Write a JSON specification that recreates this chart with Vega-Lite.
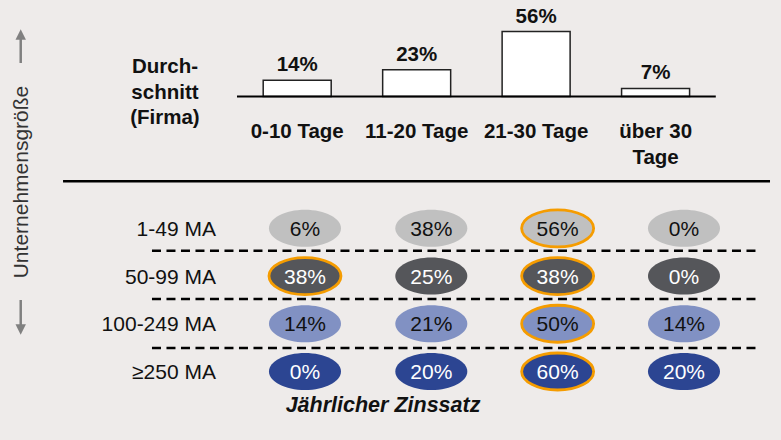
{
  "$schema": "https://vega.github.io/schema/vega-lite/v6.json",
  "width": 781,
  "height": 440,
  "padding": 0,
  "autosize": {"type": "fit", "contains": "padding"},
  "background": "#eeebea",
  "config": {"view": {"stroke": null}, "font": "Liberation Sans"},
  "datasets": {
    "bars": [
      {"term": "0-10 Tage", "label": "0-10 Tage", "ti": 1, "share": 0.14},
      {"term": "11-20 Tage", "label": "11-20 Tage", "ti": 2, "share": 0.23},
      {"term": "21-30 Tage", "label": "21-30 Tage", "ti": 3, "share": 0.56},
      {"term": "über 30 Tage", "label": "über 30\nTage", "ti": 4, "share": 0.07}
    ],
    "grid": [
      {"size": "1-49 MA", "si": 1, "term": "0-10 Tage", "ti": 1, "share": 0.06, "best": false},
      {"size": "1-49 MA", "si": 1, "term": "11-20 Tage", "ti": 2, "share": 0.38, "best": false},
      {"size": "1-49 MA", "si": 1, "term": "21-30 Tage", "ti": 3, "share": 0.56, "best": true},
      {"size": "1-49 MA", "si": 1, "term": "über 30 Tage", "ti": 4, "share": 0.0, "best": false},
      {"size": "50-99 MA", "si": 2, "term": "0-10 Tage", "ti": 1, "share": 0.38, "best": true},
      {"size": "50-99 MA", "si": 2, "term": "11-20 Tage", "ti": 2, "share": 0.25, "best": false},
      {"size": "50-99 MA", "si": 2, "term": "21-30 Tage", "ti": 3, "share": 0.38, "best": true},
      {"size": "50-99 MA", "si": 2, "term": "über 30 Tage", "ti": 4, "share": 0.0, "best": false},
      {"size": "100-249 MA", "si": 3, "term": "0-10 Tage", "ti": 1, "share": 0.14, "best": false},
      {"size": "100-249 MA", "si": 3, "term": "11-20 Tage", "ti": 2, "share": 0.21, "best": false},
      {"size": "100-249 MA", "si": 3, "term": "21-30 Tage", "ti": 3, "share": 0.50, "best": true},
      {"size": "100-249 MA", "si": 3, "term": "über 30 Tage", "ti": 4, "share": 0.14, "best": false},
      {"size": "≥250 MA", "si": 4, "term": "0-10 Tage", "ti": 1, "share": 0.0, "best": false},
      {"size": "≥250 MA", "si": 4, "term": "11-20 Tage", "ti": 2, "share": 0.20, "best": false},
      {"size": "≥250 MA", "si": 4, "term": "21-30 Tage", "ti": 3, "share": 0.60, "best": true},
      {"size": "≥250 MA", "si": 4, "term": "über 30 Tage", "ti": 4, "share": 0.20, "best": false}
    ]
  },
  "resolve": {"scale": {"x": "independent", "y": "independent"}},
  "layer": [
    {
      "layer": [
        {
          "data": {"name": "bars"},
          "mark": {"type": "bar", "orient": "vertical", "width": 68, "fill": "#ffffff", "stroke": "#222222", "strokeWidth": 1.5},
          "encoding": {
            "x": {"field": "ti", "type": "quantitative", "scale": {"domain": [-1.446, 5.008], "nice": false, "zero": false}, "axis": null},
            "y": {"field": "share", "type": "quantitative", "scale": {"domain": [-2.9612, 0.8319], "nice": false, "zero": false}, "axis": null},
            "y2": {"datum": 0}
          }
        },
        {
          "data": {"name": "bars"},
          "mark": {"type": "text", "font": "Liberation Sans", "fontWeight": "bold", "fontSize": 20.5, "baseline": "alphabetic", "align": "center", "dy": -9, "color": "#111111"},
          "encoding": {
            "x": {"field": "ti", "type": "quantitative", "scale": {"domain": [-1.446, 5.008], "nice": false, "zero": false}, "axis": null},
            "y": {"field": "share", "type": "quantitative", "scale": {"domain": [-2.9612, 0.8319], "nice": false, "zero": false}, "axis": null},
            "text": {"field": "share", "type": "quantitative", "format": ".0%"}
          }
        },
        {
          "data": {"name": "bars"},
          "mark": {"type": "text", "font": "Liberation Sans", "fontWeight": "bold", "fontSize": 20.5, "baseline": "top", "align": "center", "lineBreak": "\n", "lineHeight": 26, "color": "#111111"},
          "encoding": {
            "x": {"field": "ti", "type": "quantitative", "scale": {"domain": [-1.446, 5.008], "nice": false, "zero": false}, "axis": null},
            "y": {"datum": -0.2198, "type": "quantitative", "scale": {"domain": [-2.9612, 0.8319], "nice": false, "zero": false}, "axis": null},
            "text": {"field": "label", "type": "nominal"}
          }
        },
        {
          "data": {"values": [{"label": "Durch-\nschnitt\n(Firma)"}]},
          "mark": {"type": "text", "font": "Liberation Sans", "fontWeight": "bold", "fontSize": 20.5, "baseline": "top", "align": "center", "lineBreak": "\n", "lineHeight": 25.5, "color": "#111111"},
          "encoding": {
            "x": {"datum": -0.107, "type": "quantitative", "scale": {"domain": [-1.446, 5.008], "nice": false, "zero": false}, "axis": null},
            "y": {"datum": 0.3405, "type": "quantitative", "scale": {"domain": [-2.9612, 0.8319], "nice": false, "zero": false}, "axis": null},
            "text": {"field": "label", "type": "nominal"}
          }
        },
        {
          "data": {"values": [{}]},
          "mark": {"type": "rule", "stroke": "#000000", "strokeWidth": 2},
          "encoding": {
            "x": {"datum": 0.496, "type": "quantitative", "scale": {"domain": [-1.446, 5.008], "nice": false, "zero": false}, "axis": null},
            "x2": {"datum": 4.504},
            "y": {"datum": 0, "type": "quantitative", "scale": {"domain": [-2.9612, 0.8319], "nice": false, "zero": false}, "axis": null}
          }
        }
      ]
    },
    {
      "layer": [
        {
          "data": {"values": [{}]},
          "mark": {"type": "rule", "stroke": "#000000", "strokeWidth": 2.5},
          "encoding": {
            "x": {"datum": -0.915, "type": "quantitative", "scale": {"domain": [-1.414, 4.768], "nice": false, "zero": false}, "axis": null},
            "x2": {"datum": 4.681},
            "y": {"datum": 0.012, "type": "quantitative", "scale": {"domain": [-3.783, 5.435], "nice": false, "zero": false, "reverse": true}, "axis": null}
          }
        },
        {
          "data": {"values": [{}]},
          "mark": {"type": "rule", "stroke": "#000000", "strokeWidth": 2.5, "strokeDash": [9, 5.5]},
          "encoding": {
            "x": {"datum": -0.211, "type": "quantitative", "scale": {"domain": [-1.414, 4.768], "nice": false, "zero": false}, "axis": null},
            "x2": {"datum": 4.586},
            "y": {"datum": 1.47, "type": "quantitative", "scale": {"domain": [-3.783, 5.435], "nice": false, "zero": false, "reverse": true}, "axis": null}
          }
        },
        {
          "data": {"values": [{}]},
          "mark": {"type": "rule", "stroke": "#000000", "strokeWidth": 2.5, "strokeDash": [9, 5.5]},
          "encoding": {
            "x": {"datum": -0.211, "type": "quantitative", "scale": {"domain": [-1.414, 4.768], "nice": false, "zero": false}, "axis": null},
            "x2": {"datum": 4.586},
            "y": {"datum": 2.48, "type": "quantitative", "scale": {"domain": [-3.783, 5.435], "nice": false, "zero": false, "reverse": true}, "axis": null}
          }
        },
        {
          "data": {"values": [{}]},
          "mark": {"type": "rule", "stroke": "#000000", "strokeWidth": 2.5, "strokeDash": [9, 5.5]},
          "encoding": {
            "x": {"datum": -0.211, "type": "quantitative", "scale": {"domain": [-1.414, 4.768], "nice": false, "zero": false}, "axis": null},
            "x2": {"datum": 4.586},
            "y": {"datum": 3.51, "type": "quantitative", "scale": {"domain": [-3.783, 5.435], "nice": false, "zero": false, "reverse": true}, "axis": null}
          }
        },
        {
          "data": {"name": "grid"},
          "mark": {"type": "point", "shape": "M -1 0 C -1 -0.2839 -0.5523 -0.514 0 -0.514 C 0.5523 -0.514 1 -0.2839 1 0 C 1 0.2839 0.5523 0.514 0 0.514 C -0.5523 0.514 -1 0.2839 -1 0 Z", "size": 5184, "filled": true, "opacity": 1, "stroke": "#f59c00", "strokeOpacity": 1},
          "encoding": {
            "x": {"field": "ti", "type": "quantitative", "scale": {"domain": [-1.414, 4.768], "nice": false, "zero": false}, "axis": null},
            "y": {"field": "si", "type": "quantitative", "scale": {"domain": [-3.783, 5.435], "nice": false, "zero": false, "reverse": true}, "axis": null},
            "fill": {"field": "size", "type": "nominal", "scale": {"domain": ["1-49 MA", "50-99 MA", "100-249 MA", "≥250 MA"], "range": ["#c0c0c0", "#55565a", "#8191c3", "#2c4592"]}, "legend": null},
            "strokeWidth": {"condition": {"test": "datum.best", "value": 2.8}, "value": 0}
          }
        },
        {
          "data": {"name": "grid"},
          "mark": {"type": "text", "font": "Liberation Sans", "fontSize": 21, "baseline": "alphabetic", "align": "center", "dy": 7.5},
          "encoding": {
            "x": {"field": "ti", "type": "quantitative", "scale": {"domain": [-1.414, 4.768], "nice": false, "zero": false}, "axis": null},
            "y": {"field": "si", "type": "quantitative", "scale": {"domain": [-3.783, 5.435], "nice": false, "zero": false, "reverse": true}, "axis": null},
            "text": {"field": "share", "type": "quantitative", "format": ".0%"},
            "color": {"condition": {"test": "datum.size == '50-99 MA' || datum.size == '≥250 MA'", "value": "#ffffff"}, "value": "#111111"}
          }
        },
        {
          "data": {"name": "grid"},
          "transform": [{"filter": "datum.ti == 1"}],
          "mark": {"type": "text", "font": "Liberation Sans", "fontSize": 21, "baseline": "alphabetic", "align": "right", "dy": 7.5, "color": "#111111"},
          "encoding": {
            "x": {"datum": 0.2957, "type": "quantitative", "scale": {"domain": [-1.414, 4.768], "nice": false, "zero": false}, "axis": null},
            "y": {"field": "si", "type": "quantitative", "scale": {"domain": [-3.783, 5.435], "nice": false, "zero": false, "reverse": true}, "axis": null},
            "text": {"field": "size", "type": "nominal"}
          }
        },
        {
          "data": {"values": [{}]},
          "mark": {"type": "rule", "stroke": "#808080", "strokeWidth": 2.5},
          "encoding": {
            "x": {"datum": -1.25, "type": "quantitative", "scale": {"domain": [-1.414, 4.768], "nice": false, "zero": false}, "axis": null},
            "y": {"datum": -2.987, "type": "quantitative", "scale": {"domain": [-3.783, 5.435], "nice": false, "zero": false, "reverse": true}, "axis": null},
            "y2": {"datum": -2.463}
          }
        },
        {
          "data": {"values": [{}]},
          "mark": {"type": "point", "shape": "M -1 1 L 1 1 L 0 -1 Z", "size": 110, "filled": true, "opacity": 1, "color": "#808080"},
          "encoding": {
            "x": {"datum": -1.25, "type": "quantitative", "scale": {"domain": [-1.414, 4.768], "nice": false, "zero": false}, "axis": null},
            "y": {"datum": -3.06, "type": "quantitative", "scale": {"domain": [-3.783, 5.435], "nice": false, "zero": false, "reverse": true}, "axis": null}
          }
        },
        {
          "data": {"values": [{}]},
          "mark": {"type": "rule", "stroke": "#808080", "strokeWidth": 2.5},
          "encoding": {
            "x": {"datum": -1.25, "type": "quantitative", "scale": {"domain": [-1.414, 4.768], "nice": false, "zero": false}, "axis": null},
            "y": {"datum": 2.502, "type": "quantitative", "scale": {"domain": [-3.783, 5.435], "nice": false, "zero": false, "reverse": true}, "axis": null},
            "y2": {"datum": 3.026}
          }
        },
        {
          "data": {"values": [{}]},
          "mark": {"type": "point", "shape": "M -1 -1 L 1 -1 L 0 1 Z", "size": 110, "filled": true, "opacity": 1, "color": "#808080"},
          "encoding": {
            "x": {"datum": -1.25, "type": "quantitative", "scale": {"domain": [-1.414, 4.768], "nice": false, "zero": false}, "axis": null},
            "y": {"datum": 3.12, "type": "quantitative", "scale": {"domain": [-3.783, 5.435], "nice": false, "zero": false, "reverse": true}, "axis": null}
          }
        },
        {
          "data": {"values": [{"label": "Unternehmensgröße"}]},
          "mark": {"type": "text", "font": "Liberation Sans", "fontSize": 21, "baseline": "middle", "align": "center", "angle": 270, "color": "#333333"},
          "encoding": {
            "x": {"datum": -1.243, "type": "quantitative", "scale": {"domain": [-1.414, 4.768], "nice": false, "zero": false}, "axis": null},
            "y": {"datum": 0.03, "type": "quantitative", "scale": {"domain": [-3.783, 5.435], "nice": false, "zero": false, "reverse": true}, "axis": null},
            "text": {"field": "label", "type": "nominal"}
          }
        },
        {
          "data": {"values": [{"label": "Jährlicher Zinssatz"}]},
          "mark": {"type": "text", "font": "Liberation Sans", "fontSize": 21.5, "fontWeight": "bold", "fontStyle": "italic", "baseline": "alphabetic", "align": "center", "color": "#111111"},
          "encoding": {
            "x": {"datum": 1.618, "type": "quantitative", "scale": {"domain": [-1.414, 4.768], "nice": false, "zero": false}, "axis": null},
            "y": {"datum": 4.843, "type": "quantitative", "scale": {"domain": [-3.783, 5.435], "nice": false, "zero": false, "reverse": true}, "axis": null},
            "text": {"field": "label", "type": "nominal"}
          }
        }
      ]
    }
  ]
}
